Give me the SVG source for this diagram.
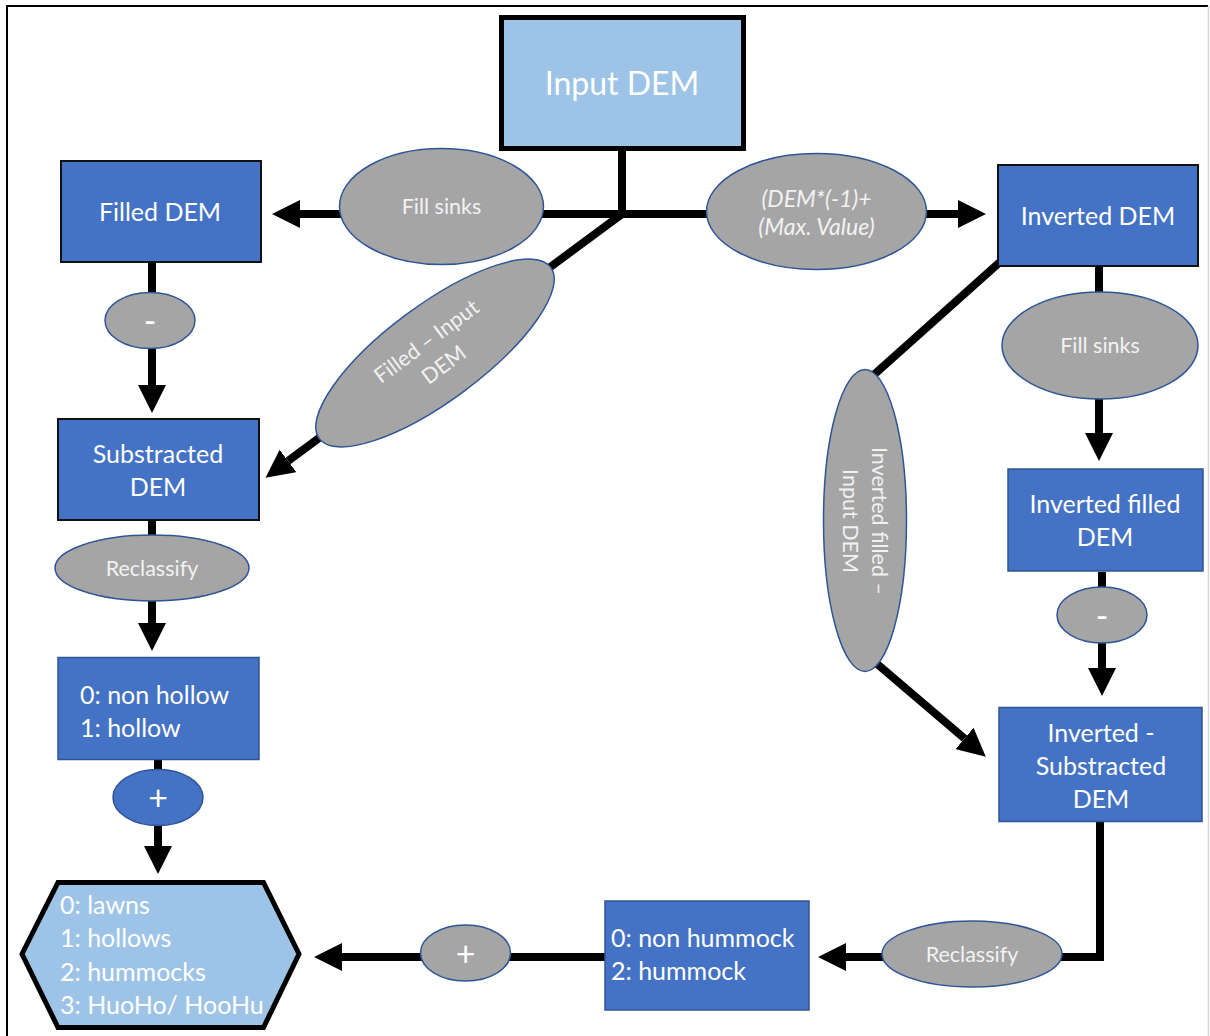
<svg xmlns="http://www.w3.org/2000/svg" width="1210" height="1036" viewBox="0 0 1210 1036">
<defs>
<marker id="ah" markerUnits="userSpaceOnUse" markerWidth="28" markerHeight="28" viewBox="0 0 28 28" refX="0" refY="14" orient="auto">
<path d="M0,0 L28,14 L0,28 Z" fill="#000"/>
</marker>
<style>
.c{fill:none;stroke:#000;stroke-width:8;stroke-linejoin:miter}
.ca{fill:none;stroke:#000;stroke-width:8;marker-end:url(#ah)}
.box{fill:#4472C4;stroke:#111;stroke-width:2}
.boxb{fill:#4472C4;stroke:#2F5597;stroke-width:1.5}
.op{fill:#A5A5A5;stroke:#2F5597;stroke-width:1.5}
.opb{fill:#4472C4;stroke:#2F5597;stroke-width:1.5}
.lt{fill:#9DC3E6;stroke:#000;stroke-width:5}
text{font-family:Lato,"Open Sans","Liberation Sans",sans-serif;fill:#fff}
.t24{font-size:25px}
.t20{font-size:21.5px;fill:#F2F2F2}
.ti{font-size:23px;fill:#F2F2F2;font-style:italic}
.sym{font-size:34px}
.m{text-anchor:middle}
</style>
</defs>
<rect width="1210" height="1036" fill="#fff"/>
<path d="M7,1036 L7,6 L1208,6" fill="none" stroke="#000" stroke-width="2"/>
<path d="M1208.5,6 L1208.5,1036" fill="none" stroke="#d8d8d8" stroke-width="1.5"/>

<g id="connectors">
<path class="c" d="M622,151 L622,214"/>
<path class="ca" d="M622,214 L300,214"/>
<path class="ca" d="M622,214 L958,214"/>
<path class="ca" d="M622,214 L288,461"/>
<path class="ca" d="M152,263 L152,385"/>
<path class="ca" d="M152,521 L152,623"/>
<path class="ca" d="M158,760 L158,846"/>
<path class="ca" d="M605,957 L342,957"/>
<path class="ca" d="M1100,822 L1100,957 L846,957"/>
<path class="ca" d="M1099,267 L1099,433"/>
<path class="ca" d="M1102,572 L1102,668"/>
<path class="c" d="M1000,262 L868,380"/>
<path class="ca" d="M876,663 L964.5,738.5"/>
</g>

<g id="input-dem">
<rect class="lt" x="501.5" y="17.5" width="242" height="131"/>
<text class="m" x="622" y="95" font-size="32">Input DEM</text>
</g>

<g id="filled-dem">
<rect class="box" x="61" y="161" width="200" height="101"/>
<text class="t24 m" x="160" y="221">Filled DEM</text>
</g>

<g id="op-fill-sinks-1">
<ellipse class="op" cx="441.5" cy="206.5" rx="102" ry="58"/>
<text class="t20 m" x="441.5" y="214">Fill sinks</text>
</g>

<g id="op-invert">
<ellipse class="op" cx="816.5" cy="211.5" rx="110" ry="58"/>
<text class="ti m" x="816.5" y="207">(DEM*(-1)+</text>
<text class="ti m" x="816.5" y="235">(Max. Value)</text>
</g>

<g id="inverted-dem">
<rect class="box" x="998" y="165" width="200" height="101"/>
<text class="t24 m" x="1098" y="225">Inverted DEM</text>
</g>

<g id="op-filled-input">
<g transform="translate(435,353) rotate(-36.5)">
<ellipse class="op" cx="0" cy="0" rx="144" ry="48"/>
<text class="t20 m" x="0" y="-7">Filled – Input</text>
<text class="t20 m" x="0" y="22">DEM</text>
</g>
</g>

<g id="op-minus-1">
<ellipse class="op" cx="150" cy="320.5" rx="45" ry="28"/>
<text class="sym m" x="150" y="333">-</text>
</g>

<g id="substracted-dem">
<rect class="box" x="58" y="419" width="201" height="101"/>
<text class="t24 m" x="158" y="463">Substracted</text>
<text class="t24 m" x="158" y="496">DEM</text>
</g>

<g id="op-reclassify-1">
<ellipse class="op" cx="152" cy="568" rx="97" ry="33"/>
<text class="t20 m" x="152" y="576">Reclassify</text>
</g>

<g id="hollow">
<rect class="boxb" x="58" y="657.5" width="201" height="102"/>
<text class="t24" x="80" y="704">0: non hollow</text>
<text class="t24" x="80" y="737">1: hollow</text>
</g>

<g id="op-plus-1">
<ellipse class="opb" cx="158" cy="797.5" rx="45" ry="28"/>
<text class="sym m" x="158" y="810">+</text>
</g>

<g id="result">
<polygon class="lt" points="22,954 58,882.5 263.5,882.5 299,954 263.5,1027.5 58,1027.5"/>
<text class="t24" x="60" y="914" font-size="24.5px">0: lawns</text>
<text class="t24" x="60" y="947" font-size="24.5px">1: hollows</text>
<text class="t24" x="60" y="981" font-size="24.5px">2: hummocks</text>
<text class="t24" x="60" y="1014" font-size="24.5px">3: HuoHo/ HooHu</text>
</g>

<g id="op-plus-2">
<ellipse class="op" cx="465.5" cy="953" rx="45" ry="28"/>
<text class="sym m" x="465.5" y="966">+</text>
</g>

<g id="hummock">
<rect class="boxb" x="605" y="901" width="204" height="109"/>
<text class="t24" x="611" y="947">0: non hummock</text>
<text class="t24" x="611" y="980">2: hummock</text>
</g>

<g id="op-reclassify-2">
<ellipse class="op" cx="972" cy="954" rx="90" ry="33"/>
<text class="t20 m" x="972" y="962">Reclassify</text>
</g>

<g id="inverted-substracted">
<rect class="boxb" x="999" y="707.5" width="203" height="114"/>
<text class="t24 m" x="1101" y="742">Inverted -</text>
<text class="t24 m" x="1101" y="775">Substracted</text>
<text class="t24 m" x="1101" y="808">DEM</text>
</g>

<g id="op-fill-sinks-2">
<ellipse class="op" cx="1100" cy="345.5" rx="98" ry="53.5"/>
<text class="t20 m" x="1100" y="353">Fill sinks</text>
</g>

<g id="inverted-filled">
<rect class="boxb" x="1008" y="469" width="195" height="102"/>
<text class="t24 m" x="1105" y="513">Inverted filled</text>
<text class="t24 m" x="1105" y="546">DEM</text>
</g>

<g id="op-minus-2">
<ellipse class="op" cx="1102" cy="615" rx="45" ry="28"/>
<text class="sym m" x="1102" y="628">-</text>
</g>

<g id="op-inverted-input">
<ellipse class="op" cx="865" cy="520.5" rx="41.5" ry="151"/>
<g transform="translate(865,521) rotate(90)">
<text class="t20 m" x="0" y="-7" font-size="22px">Inverted filled –</text>
<text class="t20 m" x="0" y="22" font-size="22px">Input DEM</text>
</g>
</g>
</svg>
